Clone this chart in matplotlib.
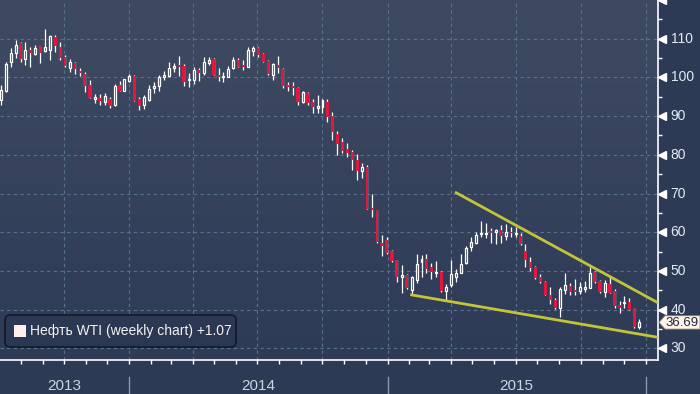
import numpy as np
import pandas as pd
import matplotlib
matplotlib.use('Agg')
import matplotlib.pyplot as plt
import matplotlib.dates as mdates
from matplotlib.patches import FancyBboxPatch, Rectangle, Polygon
from matplotlib.colors import LinearSegmentedColormap
from matplotlib import font_manager

# weekly WTI candles
open_ = [94.2, 96.6, 104.1, 106.2, 108.8, 104.7, 107.1, 106.0, 108.1, 106.9,
         107.1, 110.4, 107.8, 105.2, 102.5, 103.6, 101.7, 100.9, 98.0, 94.3,
         94.8, 93.7, 94.4, 92.8, 98.0, 96.6, 99.1, 100.4, 94.4, 92.9,
         94.2, 97.2, 97.8, 100.2, 100.4, 102.4, 103.2, 103.0, 99.3, 99.3,
         101.9, 101.1, 103.6, 104.7, 100.6, 100.0, 100.2, 102.4, 104.5, 103.2,
         102.8, 106.9, 107.5, 106.0, 104.2, 100.6, 103.2, 102.1, 98.0, 97.8,
         97.3, 93.7, 96.0, 93.7, 92.2, 92.3, 93.7, 90.0, 85.4, 83.4,
         81.6, 80.8, 78.7, 75.9, 76.8, 66.3, 65.7, 57.3, 58.0, 55.1,
         52.8, 48.3, 48.9, 45.1, 47.6, 52.2, 53.0, 50.9, 49.5, 49.8,
         44.9, 46.4, 48.5, 49.5, 52.0, 56.3, 57.3, 59.5, 59.5, 60.1,
         60.1, 60.6, 59.1, 60.1, 59.5, 59.1, 55.2, 52.4, 50.9, 48.3,
         47.2, 43.8, 42.5, 40.3, 45.1, 46.1, 45.1, 44.9, 45.2, 45.6,
         49.8, 47.4, 44.6, 46.6, 44.9, 41.2, 41.6, 42.0, 40.3, 35.4]
high = [98.0, 104.1, 107.5, 109.7, 109.2, 109.2, 107.9, 108.4, 108.1, 112.5,
        111.0, 111.0, 109.2, 105.8, 104.7, 103.9, 102.4, 101.5, 99.3, 95.6,
        95.6, 95.9, 95.0, 98.3, 99.1, 99.6, 100.9, 100.6, 95.0, 95.5,
        98.0, 98.9, 100.6, 101.7, 104.1, 103.8, 105.5, 103.4, 101.1, 102.8,
        102.4, 105.2, 105.2, 105.0, 102.4, 101.5, 102.9, 105.2, 104.9, 104.5,
        107.8, 108.1, 107.9, 106.2, 104.5, 103.8, 105.5, 102.4, 98.8, 98.8,
        97.6, 96.5, 96.3, 94.3, 95.5, 94.4, 94.5, 91.1, 86.2, 84.3,
        83.0, 81.2, 80.2, 78.0, 77.4, 69.9, 65.8, 59.3, 58.7, 55.5,
        52.9, 51.5, 49.2, 48.7, 54.4, 54.1, 54.4, 52.0, 52.6, 50.1,
        46.6, 52.8, 50.4, 54.4, 56.4, 58.7, 60.1, 63.0, 62.3, 61.0,
        60.8, 61.9, 62.1, 61.4, 61.4, 59.7, 56.9, 53.5, 51.2, 49.2,
        47.3, 45.8, 42.9, 45.9, 49.4, 47.0, 47.8, 47.2, 47.4, 51.1,
        50.1, 47.6, 47.6, 48.3, 45.2, 42.3, 43.5, 42.9, 40.4, 37.5]
low = [92.9, 96.3, 102.8, 104.9, 104.1, 103.2, 102.8, 105.8, 103.8, 106.6,
       104.5, 106.6, 104.5, 102.6, 101.5, 100.9, 100.4, 96.3, 94.6, 93.5,
       92.9, 92.9, 92.0, 92.6, 96.5, 96.5, 98.9, 93.9, 91.6, 91.8,
       94.0, 95.9, 96.6, 99.3, 100.2, 101.5, 100.4, 97.8, 97.6, 98.3,
       99.1, 100.6, 103.2, 100.5, 99.1, 98.9, 100.1, 102.2, 102.7, 101.9,
       102.7, 105.5, 105.3, 104.0, 100.6, 99.3, 101.2, 97.3, 96.6, 95.5,
       92.9, 93.3, 92.9, 90.9, 90.9, 90.9, 88.6, 83.8, 79.9, 80.4,
       79.5, 76.1, 73.5, 73.9, 65.9, 64.0, 57.3, 53.8, 54.4, 52.4,
       47.2, 44.4, 45.2, 43.8, 46.9, 48.5, 49.5, 47.8, 48.5, 44.6,
       42.5, 45.9, 47.2, 49.4, 51.9, 55.2, 57.0, 58.7, 58.4, 57.3,
       56.9, 57.3, 58.0, 58.7, 58.7, 56.7, 50.9, 50.0, 47.8, 46.8,
       43.7, 41.4, 40.1, 38.0, 44.0, 43.8, 43.8, 44.0, 44.5, 45.5,
       46.9, 44.4, 43.2, 44.2, 40.3, 39.2, 40.3, 39.9, 35.2, 34.9]
close = [96.7, 103.5, 106.2, 108.4, 104.7, 107.1, 106.2, 107.6, 106.4, 107.8,
         110.7, 108.2, 104.9, 102.9, 104.1, 102.1, 101.1, 97.8, 94.8, 95.0,
         94.0, 95.2, 92.6, 97.8, 96.6, 99.5, 100.4, 94.0, 92.6, 94.9,
         96.9, 97.8, 100.0, 100.6, 102.4, 103.0, 102.6, 98.9, 99.6, 101.9,
         101.1, 103.9, 104.5, 100.6, 100.0, 100.4, 102.1, 104.5, 102.8, 102.8,
         107.1, 107.5, 105.8, 104.1, 100.9, 103.5, 102.4, 97.9, 97.4, 97.3,
         93.7, 96.3, 93.3, 92.3, 92.7, 94.2, 89.8, 86.0, 82.8, 81.1,
         80.4, 78.7, 75.8, 76.8, 66.0, 65.7, 57.5, 56.5, 54.5, 52.6,
         48.3, 48.9, 45.5, 48.5, 51.8, 53.0, 50.4, 49.8, 49.8, 44.9,
         45.9, 49.1, 49.4, 51.8, 55.8, 57.5, 59.3, 59.7, 59.9, 59.9,
         60.6, 59.1, 60.1, 59.7, 59.9, 57.0, 52.8, 50.7, 48.1, 47.2,
         43.8, 42.5, 40.3, 45.2, 46.3, 44.6, 44.6, 45.9, 45.9, 49.5,
         47.2, 44.6, 46.8, 44.4, 40.9, 40.5, 42.0, 40.0, 35.4, 36.69]
weeks = pd.date_range('2013-07-03', periods=len(close), freq='7D')

# wedge lines drawn on the chart
upper_dates = ['2015-04-08', '2016-01-18']
upper_vals = [70.2, 41.8]
lower_dates = ['2015-02-04', '2016-01-18']
lower_vals = [43.8, 32.85]

y_ticks = [30, 40, 50, 60, 70, 80, 90, 100, 110]
years = ['2013', '2014', '2015']
last_price = '36.69'
legend_label = 'Нефть WTI (weekly chart) +1.07'

names = {f.name for f in font_manager.fontManager.ttflist}
num_font = 'Liberation Sans Narrow' if 'Liberation Sans Narrow' in names else 'Liberation Sans'

RED = '#e3163d'
GRID = '#57728f'
TXT = '#e2eaf4'

fig = plt.figure(figsize=(7, 3.94), dpi=100, facecolor='#2d3a56')
ax = fig.add_axes([0, 33.7 / 394, 658 / 700, 360.3 / 394])

x0 = mdates.date2num(weeks[0])
xlim = (x0 - 1.0, x0 + 929.4)
ylim = (26.9, 120.0)

bg = LinearSegmentedColormap.from_list('bg', ['#3f4a62', '#2e3b57'])
ax.imshow(np.linspace(0, 1, 256).reshape(-1, 1), cmap=bg, extent=[0, 1, 0, 1],
          transform=ax.transAxes, aspect='auto', zorder=0)

# grid
for v in y_ticks:
    ax.axhline(v, color=GRID, lw=0.8, ls=(0, (3, 3)), zorder=1)
for q in pd.date_range('2013-10-01', '2016-01-01', freq='QS'):
    ax.axvline(mdates.date2num(q), color=GRID, lw=0.8, ls=(0, (3, 3)), zorder=1)

# candles
x = mdates.date2num(weeks)
o = np.array(open_)
c = np.array(close)
up = c >= o
bottom = np.minimum(o, c)
height = np.maximum(np.abs(c - o), 0.3)
ax.vlines(x, low, high, color='white', lw=0.9, zorder=2)
face = [bg((ylim[1] - v) / (ylim[1] - ylim[0])) for v in c[up]]
ax.bar(x[up], height[up], bottom=bottom[up], width=2.8, facecolor=face,
       edgecolor='white', lw=0.9, zorder=3)
ax.bar(x[~up], height[~up], bottom=bottom[~up], width=4.0, color=RED, lw=0, zorder=3)

ax.plot(mdates.date2num(pd.to_datetime(upper_dates)), upper_vals, color='#c4c43a', lw=2, zorder=4)
ax.plot(mdates.date2num(pd.to_datetime(lower_dates)), lower_vals, color='#c4c43a', lw=2, zorder=4)

ax.set_xlim(xlim)
ax.set_ylim(ylim)

# axes
for s in ['top', 'left']:
    ax.spines[s].set_visible(False)
for s in ['right', 'bottom']:
    ax.spines[s].set_color('white')
    ax.spines[s].set_linewidth(1.2)

ax.xaxis.set_major_locator(mdates.MonthLocator())
ax.tick_params(axis='x', length=3, width=1, color='white', labelbottom=False)
ax.yaxis.tick_right()
ax.set_yticks(y_ticks)
ax.set_yticks([35, 45, 55, 65, 75, 85, 95, 105, 115], minor=True)
ax.tick_params(axis='y', which='major', length=0, pad=9, labelcolor=TXT, labelsize=10)
ax.tick_params(axis='y', which='minor', length=3, width=1, color='white')
for t in ax.get_yticklabels():
    t.set_fontfamily(num_font)
    t.set_verticalalignment('center')
ax.plot([1.006] * 10, y_ticks + [120], 'w<', ms=6, transform=ax.get_yaxis_transform(),
        clip_on=False, zorder=5)

# years in the bottom band
bounds = [xlim[0]] + [mdates.date2num(pd.Timestamp(f'{y}-01-01')) for y in (2014, 2015, 2016)]
for i, yr in enumerate(years):
    mid = (bounds[i] + min(bounds[i + 1], xlim[1])) / 2
    ax.text(mid, -0.071, yr, transform=ax.get_xaxis_transform(), ha='center', va='center',
            color='#ccd4e0', fontsize=11, family=num_font)
for b in bounds[1:]:
    ax.plot([b, b], [-0.046, -0.095], transform=ax.get_xaxis_transform(), color='#8a96aa',
            lw=1, clip_on=False)

# legend box
inch = fig.dpi_scale_trans
fig.add_artist(FancyBboxPatch((0.05, 0.47), 2.31, 0.32, boxstyle='round,pad=0,rounding_size=0.05',
                              transform=inch, facecolor='#2c3853', edgecolor='#121a2a', lw=1.2))
fig.add_artist(Rectangle((0.14, 0.57), 0.12, 0.12, transform=inch, facecolor='#fdf0ec', lw=0))
fig.text(30 / 700, 1 - 331 / 394, legend_label, color='#f2f2f2', fontsize=10,
         family='Liberation Sans', va='center', ha='left')

# last price tag
ty = (394 - 322.4) / 100
fig.add_artist(Polygon([(6.59, ty), (6.65, ty + 0.067), (7.0, ty + 0.067), (7.0, ty - 0.067),
                        (6.65, ty - 0.067)], closed=True, transform=inch,
                       facecolor='#fff4e8', edgecolor='#8a8070', lw=0.6, zorder=6))
fig.text(682 / 700, 1 - 323 / 394, last_price, color='#1c2846', fontsize=9.5,
         family=num_font, ha='center', va='center', zorder=7)

fig.savefig('out.png', dpi=100, facecolor=fig.get_facecolor())
